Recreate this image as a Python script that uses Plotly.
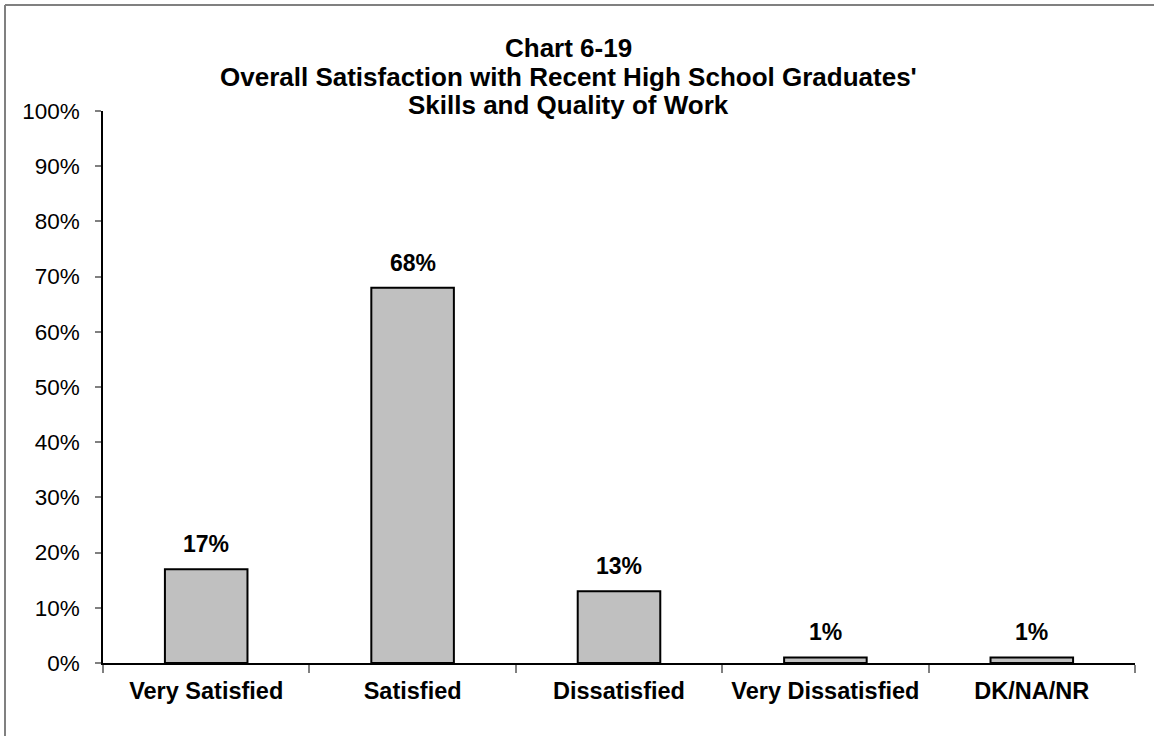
import plotly.graph_objects as go

categories = ["Very Satisfied", "Satisfied", "Dissatisfied", "Very Dissatisfied", "DK/NA/NR"]
values = [17, 68, 13, 1, 1]
value_labels = ["17%", "68%", "13%", "1%", "1%"]
title_lines = ["Chart 6-19",
               "Overall Satisfaction with Recent High School Graduates'",
               "Skills and Quality of Work"]
y_ticks = list(range(0, 101, 10))
y_tick_labels = [f"{v}%" for v in y_ticks]

W, H = 1154, 736
L, R, T, B = 103, 19, 111, 73
pw, ph = W - L - R, H - T - B

def px_x(x):
    return (x - L) / pw

def px_y(y):
    return (H - B - y) / ph

FONT = "Liberation Sans, Arial, sans-serif"

fig = go.Figure()
fig.add_trace(go.Bar(
    x=categories, y=values, width=0.4,
    marker=dict(color="#C0C0C0", line=dict(color="black", width=2)),
    hoverinfo="skip",
))

annotations = []
for c, v, t in zip(categories, values, value_labels):
    annotations.append(dict(x=c, y=v, xref="x", yref="y", text=f"<b>{t}</b>",
                            showarrow=False, yanchor="middle", yshift=25,
                            font=dict(family=FONT, size=23, color="black")))

title_y = [48, 77, 105]
for line, yp in zip(title_lines, title_y):
    annotations.append(dict(x=px_x(568), y=px_y(yp), xref="paper", yref="paper",
                            text=f"<b>{line}</b>", showarrow=False,
                            xanchor="center", yanchor="middle",
                            font=dict(family=FONT, size=26, color="black")))

border = dict(color="#808080", width=2)
fig.update_layout(
    width=W, height=H,
    margin=dict(l=L, r=R, t=T, b=B, pad=0),
    paper_bgcolor="white", plot_bgcolor="white",
    showlegend=False,
    font=dict(family=FONT, color="black"),
    annotations=annotations,
    bargap=0.6,
    shapes=[
        dict(type="line", xref="paper", yref="paper",
             x0=px_x(5), y0=px_y(5), x1=px_x(1160), y1=px_y(5), line=border, layer="below"),
        dict(type="line", xref="paper", yref="paper",
             x0=px_x(5), y0=px_y(5), x1=px_x(5), y1=px_y(740), line=border, layer="below"),
    ],
)

fig.update_xaxes(
    showline=True, linecolor="black", linewidth=1.5,
    ticks="outside", tickson="boundaries", ticklen=8, tickcolor="#808080", tickwidth=1.5,
    tickfont=dict(family=FONT, size=23.5, color="black"),
    tickprefix="<b>", ticksuffix="</b>",
    ticklabelstandoff=6,
    showgrid=False, zeroline=False, fixedrange=True,
)
fig.update_yaxes(
    range=[0, 100], tickvals=y_ticks, ticktext=y_tick_labels,
    showline=True, linecolor="black", linewidth=1.5,
    ticks="outside", ticklen=6, tickcolor="#808080", tickwidth=1.5,
    tickfont=dict(family=FONT, size=22.5, color="black"),
    ticklabelstandoff=11,
    showgrid=False, zeroline=False, fixedrange=True,
)

fig.write_html("out.html", config={"displayModeBar": False})
